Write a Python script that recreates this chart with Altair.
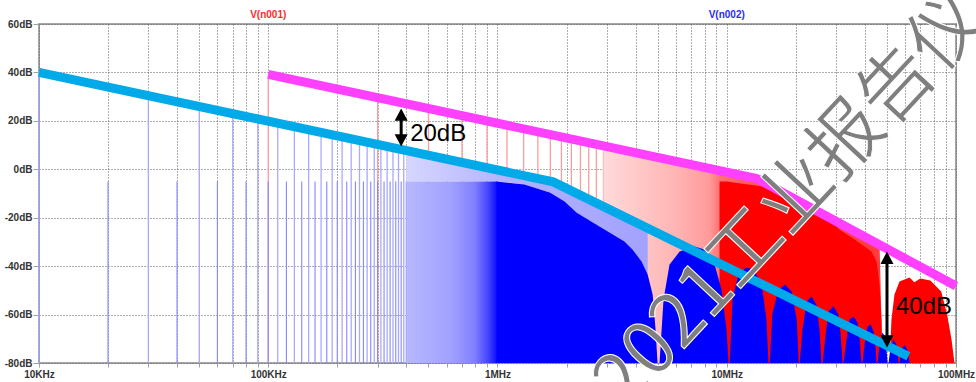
import altair as alt
import pandas as pd

# ---------------- axis ticks ----------------
decade_hz = [1e4, 1e5, 1e6, 1e7, 1e8]
decade_labels = ["10KHz", "100KHz", "1MHz", "10MHz", "100MHz"]
db_ticks = [-80, -60, -40, -20, 0, 20, 40, 60]
FLOOR = -80

# ---------------- V(n002): 10 kHz square wave spectrum ----------------
# individually resolved harmonic lines (kHz, dB)
blue_odd_khz = [10, 30, 50, 70, 90, 110, 130, 150, 170, 190,
                210, 230, 250, 270, 290, 310, 330, 350, 370, 390]
blue_odd_db = [40.0, 30.5, 26.0, 23.1, 20.9, 19.2, 17.7, 16.5, 15.4, 14.4,
               13.6, 12.8, 12.0, 11.4, 10.8, 10.2, 9.6, 9.1, 8.6, 8.1]
blue_even_khz = [20, 40, 60, 80, 100, 120, 140, 160, 180, 200,
                 220, 240, 260, 280, 300, 320, 340, 360, 380, 400]
blue_even_db = [-5.0] * len(blue_even_khz)

# dense harmonics: tips above the solid band (MHz, lower dB, upper dB)
blue_tips_mhz = [0.40, 1.00, 1.31, 1.69, 2.21, 2.65, 3.08, 3.58, 3.88, 4.25, 4.52]
blue_tips_lo = [-5.0, -5.0, -6.3, -9.6, -17.8, -22.4, -26.1, -29.8, -33.1, -38.1, -43.5]
blue_tips_hi = [8.0, 0.0, -2.4, -4.6, -10.2, -13.8, -16.9, -19.9, -21.5, -23.3, -26.0]

# merging lines between 400 kHz and 1 MHz (MHz, dB)
blue_merge_mhz = [0.40, 1.00]
blue_merge_db = [-5.0, -5.0]

# solid spectrum with sinc lobes (MHz, dB)
blue_solid_mhz = [0.99, 1.31, 1.69, 1.96, 2.21, 2.65, 3.08, 3.58, 3.88, 4.25, 4.52, 4.75, 4.89, 4.99,
                  5.09, 5.30, 5.63, 6.23, 7.24, 8.0, 8.85, 9.49, 9.98, 10.18,
                  10.3, 10.6, 11.15, 12.1, 13.1, 14.2, 14.9, 15.2,
                  15.4, 15.8, 16.7, 17.9, 19.2, 20.2, 20.6,
                  20.8, 21.4, 22.3, 23.4, 24.6, 25.4, 25.9,
                  26.2, 27.0, 27.8, 29.2, 30.7, 31.4, 32.0,
                  32.3, 33.3, 34.3, 35.7, 37.2, 38.0, 38.7,
                  39.1, 39.9, 41.1, 42.4, 43.7, 44.6, 45.0,
                  45.5, 46.4, 47.8, 49.3, 50.3,
                  50.8, 51.8, 53.4, 55.0, 56.2,
                  56.7, 57.9, 59.6, 61.4, 62.7]
blue_solid_db = [-5.0, -6.3, -9.6, -13.3, -17.8, -22.4, -26.1, -29.8, -33.1, -38.1, -43.5, -51.7, -66.0, -80,
                 -80, -53.8, -39.3, -34.0, -31.9, -33.1, -39.3, -49.6, -66.2, -80,
                 -80, -53.8, -44.7, -40.6, -41.4, -47.6, -62.0, -80,
                 -80, -60.0, -50.5, -47.6, -50.5, -62.0, -80,
                 -80, -66.2, -54.6, -52.5, -55.8, -66.2, -80,
                 -80, -68.2, -58.7, -56.6, -60.0, -68.2, -80,
                 -80, -70.3, -62.0, -60.8, -63.3, -70.3, -80,
                 -80, -72.4, -65.0, -64.0, -67.1, -73.6, -80,
                 -80, -72.4, -67.4, -69.5, -80,
                 -80, -73.6, -70.3, -72.4, -80,
                 -80, -74.6, -72.5, -74.6, -80]

# ---------------- V(n001): 100 kHz square wave spectrum ----------------
red_line_mhz = [0.1, 0.3, 0.5, 0.7, 0.9, 1.1, 1.3, 1.5, 1.7, 1.9, 2.1, 2.3, 2.5, 2.7, 2.9]
red_line_db = [39.2, 29.7, 25.2, 22.3, 20.1, 18.4, 16.9, 15.7, 14.6, 13.6, 12.8, 12.0, 11.2, 10.6, 9.9]

red_dense_mhz = [2.9, 5.0, 8.0, 10.0, 13.5, 20.0, 30.0, 40.0, 46.4, 47.3, 47.8]
red_dense_db = [9.9, 5.3, 1.2, -0.8, -3.8, -12.5, -21.4, -27.8, -31.0, -62.0, -80]

red_solid_mhz = [9.3, 10.0, 14.3, 17.9, 23.0, 26.7, 31.0, 36.1, 39.9, 42.8, 45.0, 46.4, 47.3, 47.8,
                 51.3, 52.3, 53.9, 56.7, 62.7, 65.8, 69.9, 77.3, 86.2, 91.5, 95.6, 98.5]
red_solid_db = [-5.0, -5.0, -7.1, -10.4, -13.7, -18.7, -24.9, -29.0, -31.9, -34.0, -38.1, -47.6, -62.0, -80,
                -80, -62.0, -51.7, -46.3, -44.7, -46.7, -45.1, -45.9, -50.5, -60.0, -70.3, -80]

# ---------------- envelopes ----------------
cyan_mhz = [0.01, 1.75, 62.0]
cyan_db = [40.0, -5.2, -77.2]
magenta_mhz = [0.1, 13.5, 100.0]
magenta_db = [39.2, -3.8, -48.2]

# ---------------- annotations ----------------
arrow_mhz = [0.38, 50.0]
arrow_top_db = [25.1, -34.0]
arrow_bottom_db = [9.4, -73.6]
arrow_text = ["20dB", "40dB"]
arrow_text_db = [14.4, -56.7]

trace_names = ["V(n001)", "V(n002)"]
trace_title_hz = [1e5, 1e7]
trace_colors = ["#ff2b2b", "#2b2bff"]

watermark = "2021工业报告仪"

# ---------------- tables ----------------
blue_odd = pd.DataFrame({"f": [k * 1e3 for k in blue_odd_khz], "db": blue_odd_db})
blue_even = pd.DataFrame({"f": [k * 1e3 for k in blue_even_khz], "db": blue_even_db})
blue_tips = pd.DataFrame({"f": [m * 1e6 for m in blue_tips_mhz], "lo": blue_tips_lo, "hi": blue_tips_hi})
blue_merge = pd.DataFrame({"f": [m * 1e6 for m in blue_merge_mhz], "db": blue_merge_db})
blue_solid = pd.DataFrame({"f": [m * 1e6 for m in blue_solid_mhz], "db": blue_solid_db})
red_lines = pd.DataFrame({"f": [m * 1e6 for m in red_line_mhz], "db": red_line_db})
red_dense = pd.DataFrame({"f": [m * 1e6 for m in red_dense_mhz], "db": red_dense_db})
red_solid = pd.DataFrame({"f": [m * 1e6 for m in red_solid_mhz], "db": red_solid_db})
cyan = pd.DataFrame({"f": [m * 1e6 for m in cyan_mhz], "db": cyan_db})
magenta = pd.DataFrame({"f": [m * 1e6 for m in magenta_mhz], "db": magenta_db})
arrows = pd.DataFrame({
    "f": [m * 1e6 for m in arrow_mhz],
    "top": arrow_top_db,
    "bottom": arrow_bottom_db,
    "shaft_top": [t - 3 for t in arrow_top_db],
    "shaft_bottom": [b + 3 for b in arrow_bottom_db],
    "label": arrow_text,
    "label_db": arrow_text_db,
})
titles = pd.DataFrame({"f": trace_title_hz, "name": trace_names, "color": trace_colors})
mark_text_df = pd.DataFrame({"text": [watermark]})

# ---------------- scales and axes ----------------
grid_hz = [m * 10 ** e for e in range(4, 8) for m in range(1, 10)] + [10 ** 8]
label_expr = " : ".join(
    f"datum.value == {int(v)} ? '{t}'" for v, t in zip(decade_hz, decade_labels)
) + " : ''"

FONT = "Liberation Sans"
xs = alt.Scale(type="log", domain=[1e4, 1e8], nice=False)
ys = alt.Scale(domain=[-80, 60], nice=False, zero=False)
x_axis = alt.Axis(values=grid_hz, labelExpr=label_expr, title=None, grid=True,
                  gridDash=[1, 2], gridColor="#5e5e5e", gridWidth=1, gridOpacity=1,
                  domain=False, tickSize=4, tickColor="#a0a0a0", tickWidth=1,
                  labelFont=FONT, labelFontWeight="bold", labelFontSize=10, labelColor="#333333",
                  labelPadding=2, labelOverlap=False, labelFlush=False, labelBound=False)
y_axis = alt.Axis(values=db_ticks, labelExpr="datum.value + 'dB'", title=None, grid=True,
                  gridDash=[1, 2], gridColor="#5e5e5e", gridWidth=1, gridOpacity=1,
                  domain=False, tickSize=6, tickColor="#a0a0a0", tickWidth=1,
                  labelFont=FONT, labelFontWeight="bold", labelFontSize=10, labelColor="#333333",
                  labelPadding=1, labelOverlap=False, labelFlush=False, labelBound=False)


def X(field="f"):
    return alt.X(f"{field}:Q", scale=xs, axis=x_axis)


def Y(field):
    return alt.Y(f"{field}:Q", scale=ys, axis=y_axis)


def hgrad(stops):
    return alt.LinearGradient(gradient="linear", x1=0, x2=1, y1=0, y2=0,
                              stops=[alt.GradientStop(offset=o, color=c) for o, c in stops])


# ---------------- layers ----------------
red_line_layer = alt.Chart(red_lines).mark_rule(color="#ff9d9d", strokeWidth=1.3).encode(
    x=X(), y=Y("db"), y2=alt.datum(FLOOR))

red_dense_layer = alt.Chart(red_dense).mark_area(
    color=hgrad([(0, "#ffdada"), (0.26, "#ffb4b4"), (0.38, "#ff9a9a"),
                 (0.42, "#ff7070"), (0.56, "#ff5050"), (1, "#ff3a3a")]),
    interpolate="linear").encode(x=X(), y=Y("db"), y2=alt.datum(FLOOR))

red_solid_layer = alt.Chart(red_solid).mark_area(color="#ff0000").encode(
    x=X(), y=Y("db"), y2=alt.datum(FLOOR))

blue_odd_layer = alt.Chart(blue_odd).mark_rule(color="#a9a9ff", strokeWidth=1.3).encode(
    x=X(), y=Y("db"), y2=alt.datum(FLOOR))

blue_even_layer = alt.Chart(blue_even).mark_rule(color="#8686ff", strokeWidth=1.1).encode(
    x=X(), y=Y("db"), y2=alt.datum(FLOOR))

blue_tips_layer = alt.Chart(blue_tips).mark_area(
    color=hgrad([(0, "#d6d6ff"), (0.42, "#b2b2ff"), (1, "#a2a2ff")])).encode(
    x=X(), y=Y("hi"), y2=alt.Y2("lo:Q"))

blue_merge_layer = alt.Chart(blue_merge).mark_area(
    color=hgrad([(0, "#b8b8ff"), (0.5, "#a0a0ff"), (0.75, "#8080ff"),
                 (0.9, "#4444ff"), (1, "#0a0aff")])).encode(
    x=X(), y=Y("db"), y2=alt.datum(FLOOR))

blue_solid_layer = alt.Chart(blue_solid).mark_area(color="#0000ff").encode(
    x=X(), y=Y("db"), y2=alt.datum(FLOOR))

cyan_layer = alt.Chart(cyan).mark_line(color="#00a9e8", strokeWidth=9, strokeCap="butt").encode(
    x=X(), y=Y("db"))

magenta_layer = alt.Chart(magenta).mark_line(color="#ff40ff", strokeWidth=9, strokeCap="butt").encode(
    x=X(), y=Y("db"))

shaft_layer = alt.Chart(arrows).mark_rule(color="black", strokeWidth=3).encode(
    x=X(), y=Y("shaft_top"), y2=alt.Y2("shaft_bottom:Q"))

head_up = alt.Chart(arrows).mark_point(
    shape="M0,0L-1,1.9L1,1.9Z", filled=True, color="black", size=169, opacity=1, strokeWidth=0
).encode(x=X(), y=Y("top"))

head_down = alt.Chart(arrows).mark_point(
    shape="M0,0L-1,-1.9L1,-1.9Z", filled=True, color="black", size=169, opacity=1, strokeWidth=0
).encode(x=X(), y=Y("bottom"))

arrow_label = alt.Chart(arrows).mark_text(
    font=FONT, fontSize=24, color="black", align="left", baseline="middle", dx=9
).encode(x=X(), y=Y("label_db"), text="label:N")

title_layer = alt.Chart(titles).mark_text(
    font=FONT, fontSize=10, fontWeight="bold", align="center", baseline="middle"
).encode(x=X(), y=alt.value(-9), text="name:N", color=alt.Color("color:N", scale=None))

watermark_layer = alt.Chart(mark_text_df).mark_text(
    font="Noto Sans CJK SC", fontSize=74, color="#7f7f7f",
    stroke="white", strokeWidth=1.0,
    angle=313, align="center", baseline="middle"
).encode(x=alt.value(753), y=alt.value(177), text="text:N")

chart = alt.layer(
    red_line_layer, red_dense_layer, red_solid_layer,
    blue_odd_layer, blue_even_layer, blue_tips_layer, blue_merge_layer, blue_solid_layer,
    cyan_layer, magenta_layer,
    shaft_layer, head_up, head_down, arrow_label,
    title_layer, watermark_layer,
).properties(
    width=917, height=339,
    padding={"left": 39, "top": 24, "right": 20, "bottom": 19},
    autosize=alt.AutoSizeParams(type="none"),
    background="white",
).configure_view(stroke="#a6a6a6", strokeWidth=2)

chart.save("out.html", embed_options={"renderer": "svg", "actions": False})
